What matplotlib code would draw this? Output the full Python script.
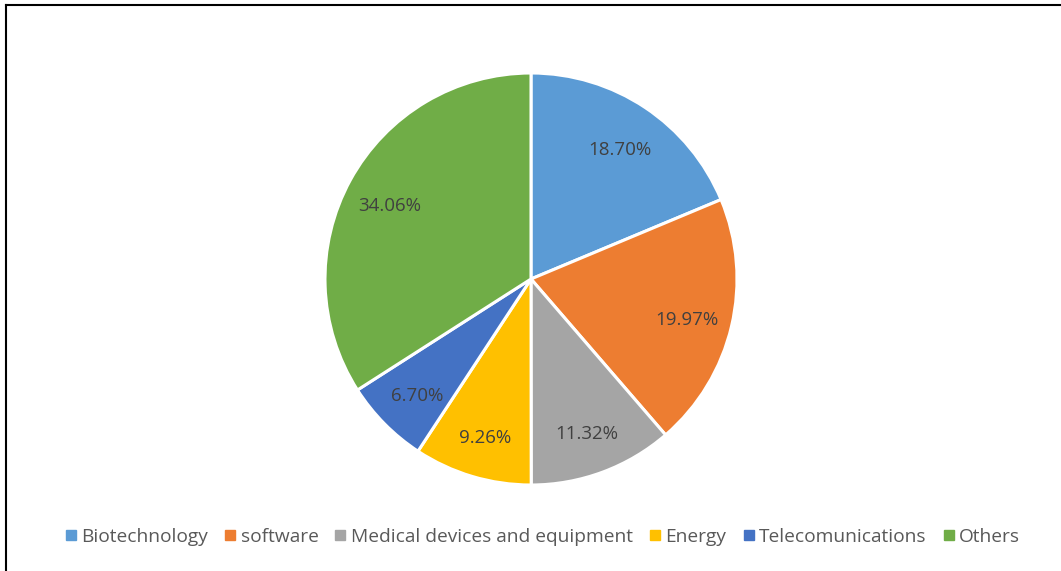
import matplotlib.pyplot as plt
from matplotlib.lines import Line2D

# sector shares (%)
labels = ['Biotechnology', 'software', 'Medical devices and equipment',
          'Energy', 'Telecomunications', 'Others']
values = [18.70, 19.97, 11.32, 9.26, 6.70, 34.06]
colors = ['#5B9BD5', '#ED7D31', '#A5A5A5', '#FFC000', '#4472C4', '#70AD47']

plt.rcParams['font.family'] = ['Open Sans', 'DejaVu Sans']

W, H = 1061, 571
fig = plt.figure(figsize=(W / 100, H / 100), dpi=100)

# pie centred at (531, 279) px, radius ~206 px
cx, cy, r = 531, 279, 206
ax = fig.add_axes([(cx - r) / W, 1 - (cy + r) / H, 2 * r / W, 2 * r / H])
wedges, texts, autotexts = ax.pie(
    values, colors=colors, startangle=90, counterclock=False,
    autopct='%.2f%%', pctdistance=0.78, radius=1,
    wedgeprops=dict(edgecolor='white', linewidth=2.2),
    textprops=dict(color='#404040', fontsize=13.5))
# nudge the percentages down a few pixels
for t in autotexts:
    x, y = t.get_position()
    t.set_position((x, y - 0.022))
ax.set_xlim(-1, 1)
ax.set_ylim(-1, 1)
ax.set_aspect('equal')
ax.axis('off')

# legend along the bottom
handles = [Line2D([], [], marker='s', linestyle='none', markersize=6.5,
                  markerfacecolor=c, markeredgecolor=c) for c in colors]
fig.legend(handles, labels, loc='center', bbox_to_anchor=(0.51, 1 - 537 / H),
           ncol=6, frameon=False, fontsize=13.8, handletextpad=0.1,
           columnspacing=0.7, handlelength=0.9, labelcolor='#595959')

# chart frame (left and top edges visible)
fig.add_artist(Line2D([6 / W, 6 / W], [0, 1 - 5 / H], color='black', lw=1.5))
fig.add_artist(Line2D([6 / W, 1], [1 - 5 / H, 1 - 5 / H], color='black', lw=1.5))

fig.savefig('out.png', dpi=100)
